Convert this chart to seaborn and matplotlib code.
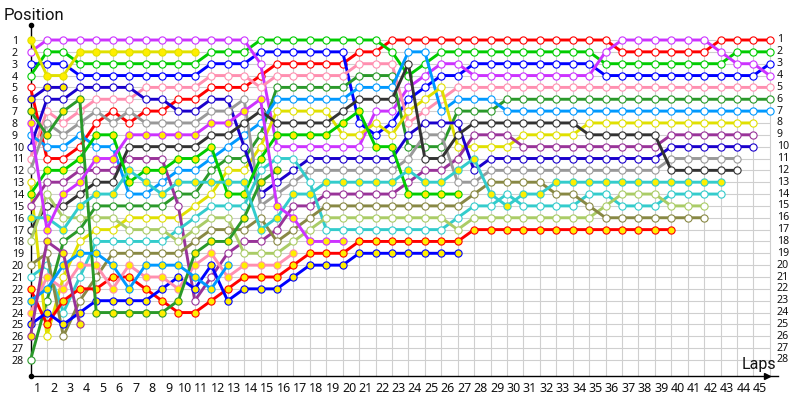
import matplotlib
matplotlib.use('Agg')
import matplotlib.pyplot as plt
import seaborn as sns

# position of each car per lap, index 0 is the grid
purple_w = [2,1,1,1,1,1,1,1,1,1,1,1,1,1,3,10,10,10,10,10,10,7,7,5,4,3,3,4,4,4,4,4,4,4,4,2,1,1,1,1,1,1,2,3,3,4]
green_w = [4,2,2,3,3,3,3,3,3,3,3,2,2,2,1,1,1,1,1,1,1,1,2,4,3,2,2,2,2,2,2,2,2,2,2,3,3,3,3,3,3,3,3,2,2,2]
blue_w = [3,3,3,4,4,4,4,4,4,4,4,3,3,3,2,2,2,2,2,2,8,9,8,6,5,4,4,3,3,3,3,3,3,3,3,4,4,4,4,4,4,4,4,4,4,3]
red_w = [5,11,11,10,8,7,8,7,7,6,6,5,5,5,4,3,3,3,3,3,2,2,1,1,1,1,1,1,1,1,1,1,1,1,1,1,2,2,2,2,2,2,1,1,1,1]
pink_w = [11,7,8,7,6,6,6,5,5,5,5,4,4,4,5,4,4,4,4,4,3,3,3,8,7,6,5,5,5,5,5,5,5,5,5,5,5,5,5,5,5,5,5,5,5,5]
dgreen_w = [28,23,18,17,15,15,15,15,15,14,14,12,11,11,9,5,5,5,5,5,4,4,4,10,10,10,7,7,7,6,6,6,6,6,6,6,6,6,6,6,6,6,6,6,6,6]
lblue_w = [9,10,10,9,10,10,14,14,13,12,12,11,10,9,8,6,6,6,6,6,5,5,5,2,2,7,6,6,6,7,7,7,7,7,7,7,7,7,7,7,7,7,7,7,7,7]
yellow_w = [13,26,21,18,17,17,16,16,16,16,15,14,12,12,10,7,7,7,7,9,9,8,9,7,6,5,10,10,10,10,9,9,9,9,8,8,8,8,8,8,8,8,8,8,8]
dpurple_w = [15,13,13,12,12,12,11,11,11,15,23,21,19,18,18,17,15,15,14,14,14,14,14,13,12,12,11,9,9,9,10,10,10,10,10,10,10,10,10,9,9,9,9,9,9]
dblue_w = [10,6,6,5,5,5,5,6,6,7,7,6,6,10,14,13,12,11,11,11,11,11,11,9,8,8,8,12,11,11,11,11,11,11,11,11,11,11,11,10,10,10,10,10,10]
grey_w = [12,8,9,8,7,8,7,8,8,8,8,7,7,6,15,14,13,12,12,12,12,12,12,11,9,9,13,13,12,12,12,12,12,12,12,12,12,12,12,11,11,11,11,11]
dgrey_w = [17,15,15,14,13,13,10,10,10,10,10,9,9,8,7,8,8,8,8,7,6,6,6,3,11,11,9,8,8,8,8,8,8,8,9,9,9,9,9,12,12,12,12,12]
teal_w = [21,20,24,21,18,18,18,18,18,17,16,15,15,15,12,11,11,13,17,17,17,17,17,17,17,17,16,15,15,14,15,15,15,15,14,14,15,15,15,14,14,14,14]
lolive_w = [18,14,16,16,16,16,17,17,17,18,17,16,16,19,19,19,18,17,16,16,16,16,16,16,16,16,17,16,16,16,16,16,16,16,16,15,14,14,14,15,15,15]
olive_w = [20,19,26,23,21,19,19,19,19,19,18,17,17,17,16,18,17,16,15,15,15,15,15,15,15,15,15,14,13,13,13,13,14,14,15,16,16,16,16,16,16,16]

yellow_y = [1,4,4,2,2,2,2,2,2,2,2]
dblue_y = [6,5,5]
dgreen_y = [7,9,7,6,24,24,24,24,24,23,19,18,18,16,13,12]
purple_y = [8,17,14,13,11,11,9,9,9,9,9,8,8,7,6,15,16,18,18,18]
green_y = [14,12,12,11,9,9,13,12,12,11,11,10,14,14,11,9,9,9,9,8,7,10,10,14,14,14,14]
teal_y = [16,16,17,15,14,14,12,13,14,13,13,13,13,13,17,16,14,14,13,13,13,13,13,12,13,13,12,11,14,15,14,14,13,13,13,13,13,13,13,13,13,13,13]
lblue_y = [23,22,20,19,19,20,22,20,20,20,21,22,20]
red_y = [22,25,23,22,22,21,21,22,23,24,24,23,22,21,21,21,20,19,19,19,18,18,18,18,18,18,18,17,17,17,17,17,17,17,17,17,17,17,17,17]
blue_y = [25,24,25,24,23,23,23,23,22,21,22,20,23,22,22,22,21,20,20,20,19,19,19,19,19,19,19]
dpurple_y = [26,18,19,25]
pink_y = [24,21,22,20,20,22,20,21,21,22,20,19,21,20,20,20,19]

# white-dot cars first, yellow-dot cars drawn over them
cars = [
    (red_w, '#ff0000', 'white'), (blue_w, '#0000ff', 'white'),
    (green_w, '#00cc00', 'white'), (purple_w, '#cc33ff', 'white'),
    (pink_w, '#ff8fb0', 'white'), (dgreen_w, '#2a992a', 'white'),
    (lblue_w, '#0099ff', 'white'), (yellow_w, '#e0e000', 'white'),
    (dpurple_w, '#993399', 'white'), (dblue_w, '#1a00cc', 'white'),
    (grey_w, '#999999', 'white'), (dgrey_w, '#333333', 'white'),
    (teal_w, '#33cccc', 'white'), (lolive_w, '#aacc66', 'white'),
    (olive_w, '#888844', 'white'),
    (red_y, '#ff0000', '#ffee00'), (blue_y, '#0000ff', '#ffee00'),
    (green_y, '#00cc00', '#ffee00'), (pink_y, '#ff8fb0', '#ffee00'),
    (dgreen_y, '#2a992a', '#ffee00'), (lblue_y, '#0099ff', '#ffee00'),
    (yellow_y, '#e0e000', '#ffee00'), (dpurple_y, '#993399', '#ffee00'),
    (dblue_y, '#1a00cc', '#ffee00'), (teal_y, '#33cccc', '#ffee00'),
    (purple_y, '#cc33ff', '#ffee00'),
]

lap_labels = list(range(1, 46))
pos_labels = list(range(1, 29))

sns.set_style('white')
plt.rcParams['font.family'] = ['Noto Sans', 'DejaVu Sans']

fig = plt.figure(figsize=(8, 4), dpi=100)
# pixel placement: x=0 at 30.5px, 16.43px per lap; pos 1 at y=40, 11.85px per position
ax = fig.add_axes([30.5 / 800, 1 - 375.5 / 400, 747.5 / 800, 350.5 / 400])
ax.set_xlim(0, 747.5 / 16.43)
ax.set_ylim(1 + 335.5 / 11.85, 1 - 15 / 11.85)

# grid stops at the first position and the last lap
ax.hlines(pos_labels, 0, 45, color='#cfcfcf', linewidth=0.8, zorder=1)
ax.vlines(range(0, 46), 1, ax.get_ylim()[0], color='#cfcfcf', linewidth=0.8, zorder=1)

for pos, col, fill in cars:
    sns.lineplot(x=list(range(len(pos))), y=pos, color=col, linewidth=2.1,
                 marker='o', markersize=5.2, markerfacecolor=fill,
                 markeredgecolor=col, markeredgewidth=0.8,
                 estimator=None, legend=False, ax=ax, zorder=3, clip_on=False)

ax.set_xlabel('')
ax.set_ylabel('')
ax.set_xticks([i - 0.6 for i in lap_labels])
ax.set_xticklabels(lap_labels, fontsize=9, color='#111111')
ax.set_yticks(pos_labels)
ax.set_yticklabels(pos_labels, fontsize=7.6, color='#111111', ha='left')
ax.tick_params(axis='x', length=0, pad=5)
ax.tick_params(axis='y', length=0, pad=13.5)

for p in pos_labels:
    ax.text(45.42, p, str(p), fontsize=7.6, color='#111111', ha='left', va='center')

ax.spines['top'].set_visible(False)
ax.spines['right'].set_visible(False)
ax.spines['left'].set_color('black')
ax.spines['bottom'].set_color('black')
ax.spines['left'].set_linewidth(1)
ax.spines['bottom'].set_linewidth(1)

# axis end markers
ax.plot(0, 1, 'o', color='black', markersize=3, transform=ax.transAxes, clip_on=False)
ax.plot(0, 0, 'o', color='black', markersize=3, transform=ax.transAxes, clip_on=False)
ax.plot(0.985, 0, '>', color='black', markersize=4, transform=ax.transAxes, clip_on=False)

fig.text(4 / 800, 1 - 15 / 400, 'Position', fontsize=12, family='Roboto', color='#111111', ha='left', va='center')
fig.text(742 / 800, 1 - 365 / 400, 'Laps', fontsize=11.5, family='Roboto', color='#111111', ha='left', va='center')

plt.savefig('out.png', dpi=100)
